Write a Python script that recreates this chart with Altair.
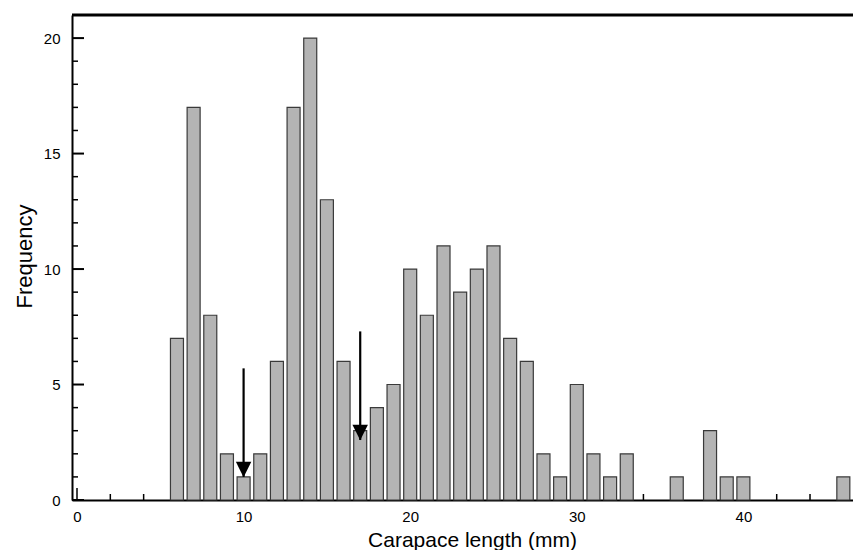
import altair as alt
import pandas as pd

# Carapace length bins (mm) and their frequencies
lengths = [6, 7, 8, 9, 10, 11, 12, 13, 14, 15, 16, 17, 18, 19, 20, 21, 22, 23,
           24, 25, 26, 27, 28, 29, 30, 31, 32, 33, 36, 38, 39, 40, 46]
counts = [7, 17, 8, 2, 1, 2, 6, 17, 20, 13, 6, 3, 4, 5, 10, 8, 11, 9,
          10, 11, 7, 6, 2, 1, 5, 2, 1, 2, 1, 3, 1, 1, 1]

x_labels = [0, 10, 20, 30, 40]
y_labels = [0, 5, 10, 15, 20]
x_minor = [2, 4, 6, 8, 12, 14, 16, 18, 22, 24, 26, 28, 32, 34, 36, 38, 42, 44, 46]
y_minor = [1, 2, 3, 4, 6, 7, 8, 9, 11, 12, 13, 14, 16, 17, 18, 19]

arrow_x = [10, 17]
arrow_top = [5.7, 7.3]
arrow_tip = [1.0, 2.6]

W, H = 781, 485
X_MAX = 46.28
Y_MAX = 21
FONT = "Liberation Sans"

bars_df = pd.DataFrame({"len": lengths, "n": counts})
arrows_df = pd.DataFrame({"x": arrow_x, "top": arrow_top, "tip": arrow_tip})

xs = alt.Scale(domain=[0, X_MAX], nice=False, zero=False)
ys = alt.Scale(domain=[0, Y_MAX], nice=False, zero=False)

base_x_axis = alt.Axis(
    values=x_labels, ticks=False, grid=False, domainColor="black", domainWidth=2,
    labelFontSize=15, labelFont=FONT, labelColor="black", labelPadding=9,
    title="Carapace length (mm)", titleFont=FONT, titleFontSize=21, titleFontWeight="normal",
    titleColor="black", titleX=400, titleY=46, titleBaseline="alphabetic", titleAlign="center",
)
base_y_axis = alt.Axis(
    values=y_labels, ticks=False, grid=False, domainColor="black", domainWidth=2,
    labelFontSize=15, labelFont=FONT, labelColor="black", labelPadding=12,
    title="Frequency", titleFont=FONT, titleFontSize=22, titleFontWeight="normal",
    titleColor="black", titleX=-41, titleY=241, titleBaseline="alphabetic", titleAlign="center",
    titleAngle=270,
)

# inward tick layers
xmaj = alt.Chart(pd.DataFrame({"v": x_labels})).mark_rule(color="black", strokeWidth=1.5).encode(
    x=alt.X("v:Q", scale=xs, axis=base_x_axis), y=alt.value(H), y2=alt.value(H - 12))
xmin = alt.Chart(pd.DataFrame({"v": x_minor})).mark_rule(color="black", strokeWidth=1.5).encode(
    x=alt.X("v:Q", scale=xs), y=alt.value(H), y2=alt.value(H - 6))
ymaj = alt.Chart(pd.DataFrame({"v": y_labels})).mark_rule(color="black", strokeWidth=2).encode(
    y=alt.Y("v:Q", scale=ys, axis=base_y_axis), x=alt.value(0), x2=alt.value(12))
ymin = alt.Chart(pd.DataFrame({"v": y_minor})).mark_rule(color="black", strokeWidth=1.5).encode(
    y=alt.Y("v:Q", scale=ys), x=alt.value(0), x2=alt.value(6))

bars = alt.Chart(bars_df).mark_bar(
    size=13, color="#b4b4b4", stroke="#3a3a3a", strokeWidth=1.2
).encode(
    x=alt.X("len:Q", scale=xs),
    y=alt.Y("n:Q", scale=ys),
)

top_border = alt.Chart(pd.DataFrame({"v": [Y_MAX]})).mark_rule(color="black", strokeWidth=3).encode(
    y=alt.Y("v:Q", scale=ys))

stems = alt.Chart(arrows_df).mark_rule(color="black", strokeWidth=2.2).encode(
    x=alt.X("x:Q", scale=xs), y=alt.Y("top:Q", scale=ys), y2=alt.Y2("tip:Q"))
heads = alt.Chart(arrows_df).mark_point(
    shape="M-1,-1L1,-1L0,1Z", size=240, filled=True, color="black", opacity=1, yOffset=-7.5
).encode(x=alt.X("x:Q", scale=xs), y=alt.Y("tip:Q", scale=ys))

chart = alt.layer(xmaj, xmin, ymaj, ymin, bars, top_border, stems, heads).properties(
    width=W, height=H,
    autosize=alt.AutoSizeParams(type="none"),
    padding={"left": 64, "top": 7, "right": 0, "bottom": 50},
).configure_view(stroke=None).configure(background="white")

chart.save("out.html", embed_options={"renderer": "svg", "actions": False})
